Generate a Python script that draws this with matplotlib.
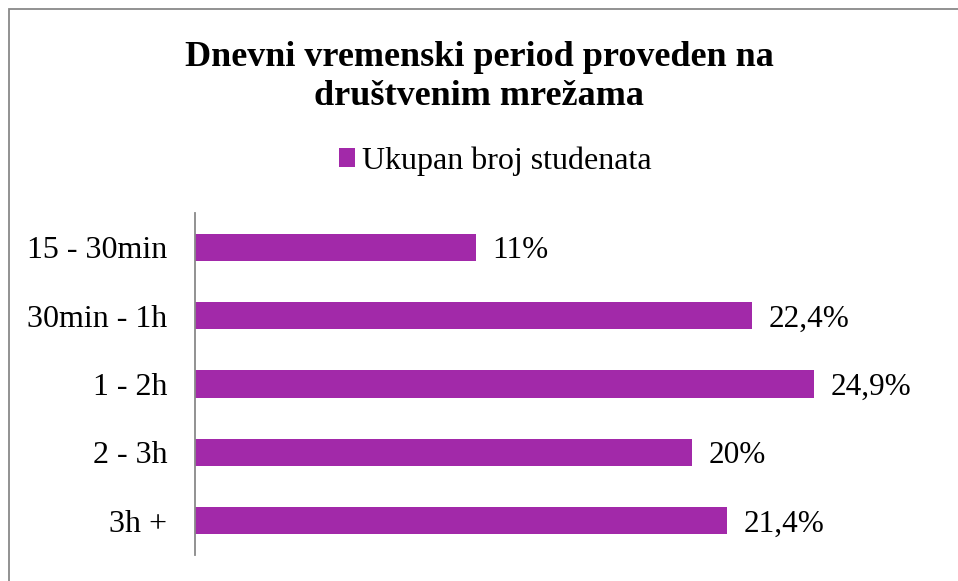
import matplotlib
matplotlib.use("Agg")
import matplotlib.pyplot as plt
from matplotlib.patches import Rectangle

categories = ["15 - 30min", "30min - 1h", "1 - 2h", "2 - 3h", "3h +"]
values = [11.3, 22.4, 24.9, 20.0, 21.4]
value_labels = ["11%", "22,4%", "24,9%", "20%", "21,4%"]
series_name = "Ukupan broj studenata"
title = "Dnevni vremenski period proveden na\ndruštvenim mrežama"

color = "#A229A9"
serif = ["Liberation Serif", "DejaVu Serif"]

fig = plt.figure(figsize=(9.58, 5.81), dpi=100)
fig.patches.append(Rectangle((9/958, -0.1), 1.2, (581-9)/581 + 0.1,
                             transform=fig.transFigure, fill=False,
                             edgecolor="#898989", linewidth=1.3))

ax = fig.add_axes([195/958, 26/581, 746/958, 342/581])
ypos = list(range(len(categories)))
ax.barh(ypos, values, height=0.4, color=color, label=series_name)
ax.set_ylim(len(categories) - 0.5, -0.5)
ax.set_xlim(0, 30)
ax.set_yticks(ypos)
ax.set_yticklabels(categories, fontfamily=serif, fontsize=23)
ax.tick_params(axis="y", length=0, pad=20)
ax.set_xticks([])
for s in ["top", "right", "bottom"]:
    ax.spines[s].set_visible(False)
ax.spines["left"].set_color("#898989")
ax.spines["left"].set_linewidth(1.3)

for y, v, lab in zip(ypos, values, value_labels):
    ax.annotate(lab, (v, y), xytext=(12, 0), textcoords="offset points",
                va="center_baseline", ha="left", fontfamily=serif, fontsize=22.5)

fig.text(479/958, 1 - 77/581, title, ha="center", va="center", fontfamily=serif,
         fontsize=26, fontweight="bold", linespacing=1.25)

leg = fig.legend(loc="center", bbox_to_anchor=(495/958, 1 - 161/581),
                 frameon=False, prop={"family": serif, "size": 23},
                 handlelength=0.53, handleheight=0.53, handletextpad=0.2)

fig.savefig("out.png", dpi=100)
